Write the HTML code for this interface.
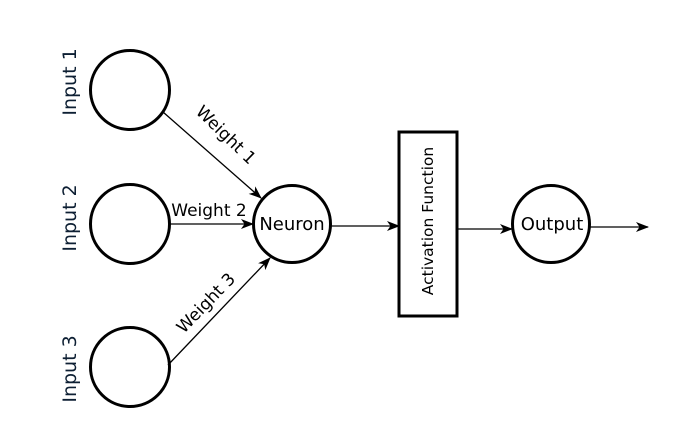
<!DOCTYPE html>
<html><head><style>html,body{margin:0;padding:0;background:#fff;}</style></head>
<body>
<svg width="700" height="435" viewBox="0 0 700 435" xmlns="http://www.w3.org/2000/svg" font-family="'DejaVu Sans', 'Liberation Sans', sans-serif">
<defs><marker id="a" markerWidth="13" markerHeight="10" refX="12" refY="5" orient="auto" markerUnits="userSpaceOnUse"><path d="M0,0 L13,5 L0,10 L3.5,5 z" fill="#000"/></marker></defs>
<g fill="none" stroke="#000" stroke-width="3">
<circle cx="130" cy="90" r="39.5"/>
<circle cx="130" cy="224" r="39.5"/>
<circle cx="130" cy="367" r="39.5"/>
<circle cx="292" cy="224" r="38.5"/>
<circle cx="551" cy="224" r="38.5"/>
<rect x="399" y="132" width="58" height="184"/>
</g>
<g stroke="#000" stroke-width="1.3" fill="none">
<line x1="163" y1="112" x2="261" y2="198" marker-end="url(#a)"/>
<line x1="170" y1="224" x2="253" y2="224" marker-end="url(#a)"/>
<line x1="168" y1="365" x2="270" y2="258" marker-end="url(#a)"/>
<line x1="331" y1="226" x2="399" y2="226" marker-end="url(#a)"/>
<line x1="457" y1="229" x2="512" y2="229" marker-end="url(#a)"/>
<line x1="590" y1="227" x2="648" y2="227" marker-end="url(#a)"/>
</g>
<g fill="#0d1f33" font-size="19" text-anchor="middle">
<text transform="translate(76,82) rotate(-90)">Input 1</text>
<text transform="translate(76,218) rotate(-90)">Input 2</text>
<text transform="translate(76,369) rotate(-90)">Input 3</text>
</g>
<g fill="#000" font-size="17" text-anchor="middle">
<text transform="translate(222,139) rotate(44)">Weight 1</text>
<text x="209" y="216">Weight 2</text>
<text transform="translate(210,307) rotate(-46)">Weight 3</text>
<text x="292" y="230" font-size="18">Neuron</text>
<text x="552" y="230" font-size="18">Output</text>
<text transform="translate(433,221) rotate(-90)" font-size="15.5">Activation Function</text>
</g>
</svg>
</body></html>
